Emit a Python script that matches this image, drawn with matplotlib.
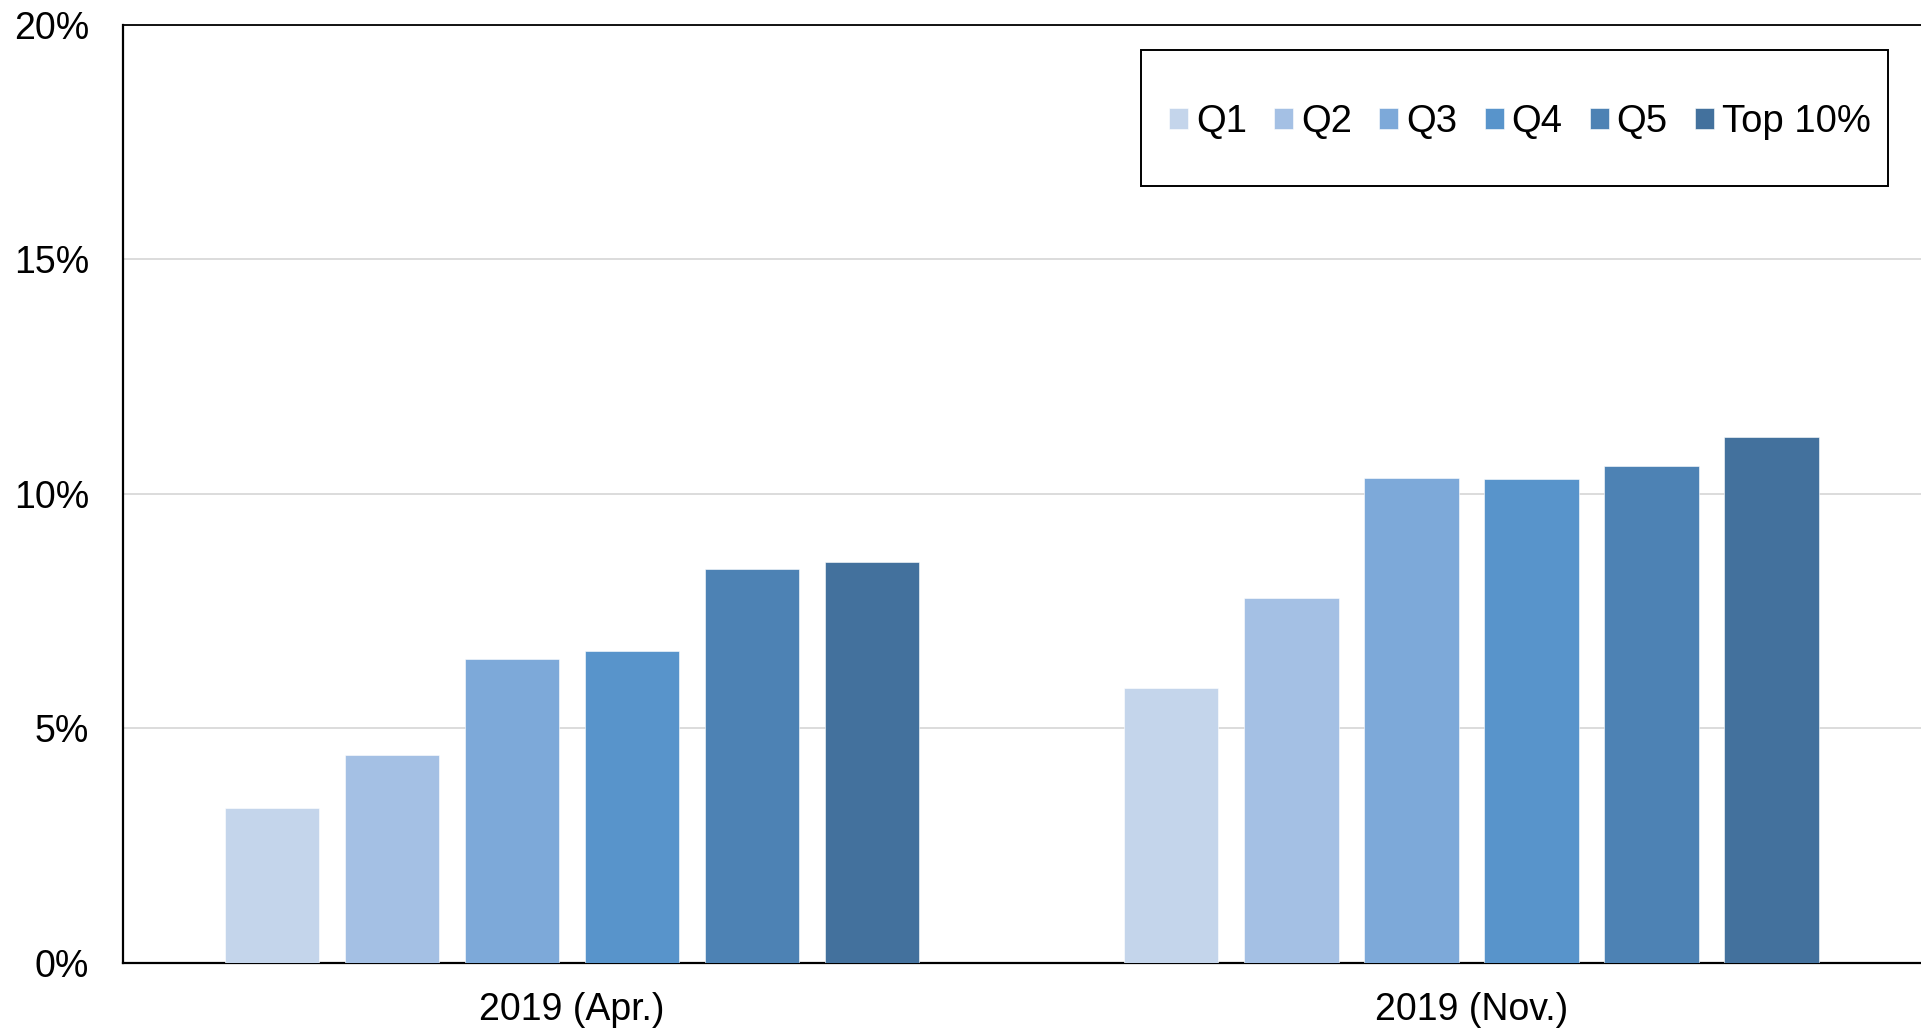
import matplotlib
matplotlib.use("Agg")
import matplotlib.pyplot as plt
import numpy as np
from matplotlib.patches import Rectangle
from matplotlib.ticker import FuncFormatter

plt.rcParams['font.family'] = ['Liberation Sans', 'DejaVu Sans']

# Share of households by income group, two survey waves
periods = ["2019 (Apr.)", "2019 (Nov.)"]
groups = ["Q1", "Q2", "Q3", "Q4", "Q5", "Top 10%"]
apr_values = [3.31, 4.43, 6.48, 6.65, 8.39, 8.54]
nov_values = [5.87, 7.78, 10.33, 10.31, 10.60, 11.22]
y_ticks = [0, 5, 10, 15, 20]

colors = ["#c4d5eb", "#a4c0e4", "#7da9d9", "#5894cb", "#4d82b4", "#43719d"]

fig = plt.figure(figsize=(19.21, 10.32), dpi=100)
ax = fig.add_axes([0.0638, 0.0669, 0.9362, 0.9089])

values = np.array([apr_values, nov_values])  # shape (periods, groups)
x = np.arange(len(periods))
pitch = 0.1335
width = 0.105
handles = []
for i, g in enumerate(groups):
    offs = (i - (len(groups) - 1) / 2) * pitch
    b = ax.bar(x + offs, values[:, i], width=width, color=colors[i],
               edgecolor="#ffffff", linewidth=0.4, label=g, zorder=3)
    handles.append(b)

ax.set_xlim(-0.5, 1.5)
ax.set_ylim(0, 20)
ax.set_yticks(y_ticks)
ax.yaxis.set_major_formatter(FuncFormatter(lambda v, p: f"{v:.0f}%"))
ax.set_xticks(x)
ax.set_xticklabels(periods)

ax.grid(axis="y", color="#d9d9d9", linewidth=1.3, zorder=0)
ax.set_axisbelow(True)
ax.tick_params(axis="both", length=0, labelsize=27)
ax.tick_params(axis="y", pad=24)
ax.tick_params(axis="x", pad=21)

for side in ["left", "bottom"]:
    ax.spines[side].set_color("black")
    ax.spines[side].set_linewidth(1.6)
ax.spines["top"].set_color("black")
ax.spines["top"].set_linewidth(1.3)
ax.spines["right"].set_visible(False)

leg = fig.legend(handles=handles, labels=groups, loc="center",
                 bbox_to_anchor=(1520 / 1921, 1 - 122 / 1032),
                 ncol=6, frameon=False, fontsize=27.5,
                 handlelength=0.5, handleheight=0.5,
                 handletextpad=0.2, columnspacing=0.72)

fig.patches.append(Rectangle((1140.6 / 1921, 1 - 186.2 / 1032),
                             (1888 - 1140.6) / 1921, 136 / 1032,
                             transform=fig.transFigure, fill=False,
                             edgecolor="black", linewidth=1.4))

fig.savefig("out.png", dpi=100, facecolor="white")
